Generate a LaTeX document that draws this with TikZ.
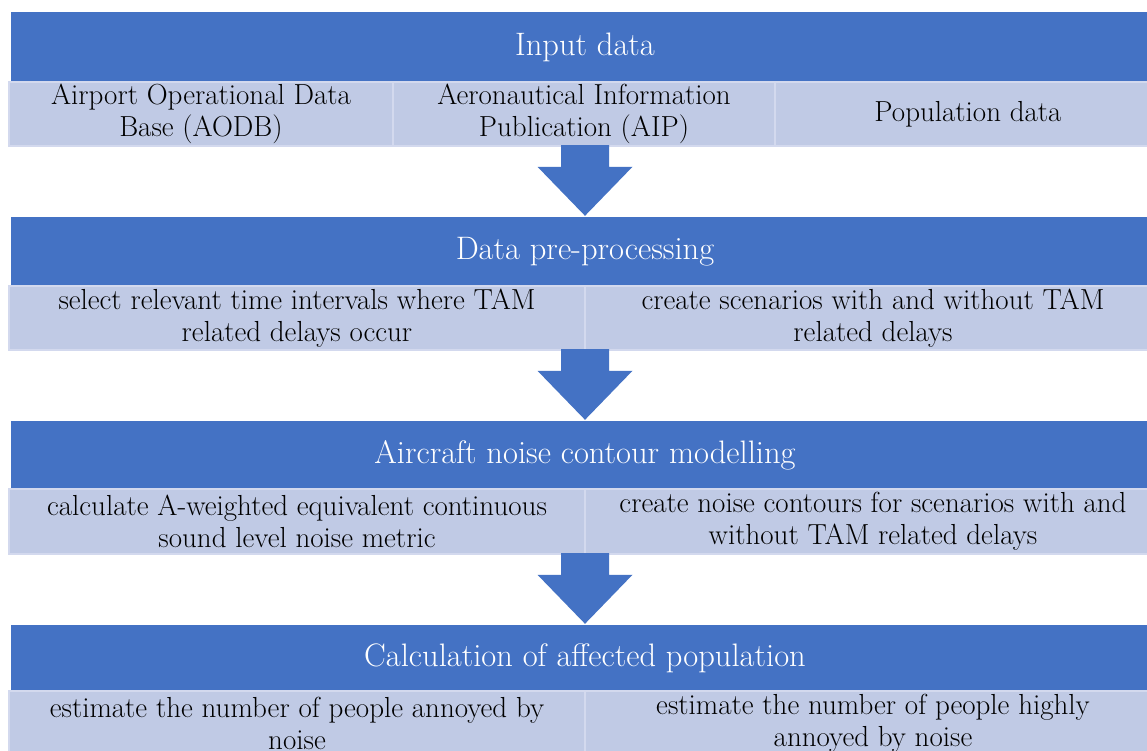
\documentclass[tikz,border=0pt]{standalone}
\usetikzlibrary{calc}
\definecolor{bandblue}{HTML}{4472C4}
\definecolor{cellfill}{HTML}{C0CAE5}
\definecolor{celledge}{HTML}{D3D9EE}
\tikzset{
  band/.style={rectangle, fill=bandblue, text=white, inner sep=0pt,
    minimum width=1148pt, font=\fontsize{32.5}{36}\selectfont},
  cell/.style={rectangle, fill=cellfill, draw=celledge, line width=1.5pt,
    inner sep=0pt, align=center, font=\fontsize{29}{31.5}\selectfont},
  rowbox/.style={rectangle, inner sep=0pt, minimum width=1152pt},
  flowarrow/.style={fill=bandblue}
}
\begin{document}
\begin{tikzpicture}[x=1pt, y=-1pt]
\useasboundingbox (0,0) rectangle (1147,751);
\clip (0,0) rectangle (1147,751);
\fill[white] (0,0) rectangle (1147,751);

% stage 1: input data
\node[band, minimum height=70pt] (b1) at (585,47) {Input data};
\node[cell, minimum width=384pt, minimum height=64pt] (c11) at (201,114)
  {Airport Operational Data\\Base (AODB)};
\node[cell, minimum width=382pt, minimum height=64pt] (c12) at (584,114)
  {Aeronautical Information\\Publication (AIP)};
\node[cell, minimum width=386pt, minimum height=64pt] (c13) at (968,114)
  {Population data};
\node[rowbox, minimum height=64pt] (r1) at (585,114) {};

% stage 2: data pre-processing
\node[band, minimum height=69pt] (b2) at (585,251.5) {Data pre-processing};
\node[cell, minimum width=576pt, minimum height=64pt] (c21) at (297,318)
  {select relevant time intervals where TAM\\related delays occur};
\node[cell, minimum width=576pt, minimum height=64pt] (c22) at (873,318)
  {create scenarios with and without TAM\\related delays};
\node[rowbox, minimum height=64pt] (r2) at (585,318) {};

% stage 3: noise contour modelling
\node[band, minimum height=68pt] (b3) at (585,455) {Aircraft noise contour modelling};
\node[cell, minimum width=576pt, minimum height=65pt] (c31) at (297,521.5)
  {calculate A-weighted equivalent continuous\\sound level noise metric};
\node[cell, minimum width=576pt, minimum height=65pt] (c32) at (873,521.5)
  {create noise contours for scenarios with and\\without TAM related delays};
\node[rowbox, minimum height=65pt] (r3) at (585,521.5) {};

% stage 4: affected population
\node[band, minimum height=66pt] (b4) at (585,658) {Calculation of affected population};
\node[cell, minimum width=576pt, minimum height=65pt] (c41) at (297,723.5)
  {estimate the number of people annoyed by\\noise};
\node[cell, minimum width=576pt, minimum height=65pt] (c42) at (873,723.5)
  {estimate the number of people highly\\annoyed by noise};

% block arrows between the stages
\foreach \src/\dst in {r1/b2, r2/b3, r3/b4}{
  \fill[flowarrow]
    ($(\src.south)+(-24,-1)$) -- ($(\src.south)+(24,-1)$)
    -- ($(\dst.north)+(24,-50)$) -- ($(\dst.north)+(47.5,-50)$)
    -- ($(\dst.north)+(0,-1)$)
    -- ($(\dst.north)+(-47.5,-50)$) -- ($(\dst.north)+(-24,-50)$) -- cycle;
}
\end{tikzpicture}
\end{document}
